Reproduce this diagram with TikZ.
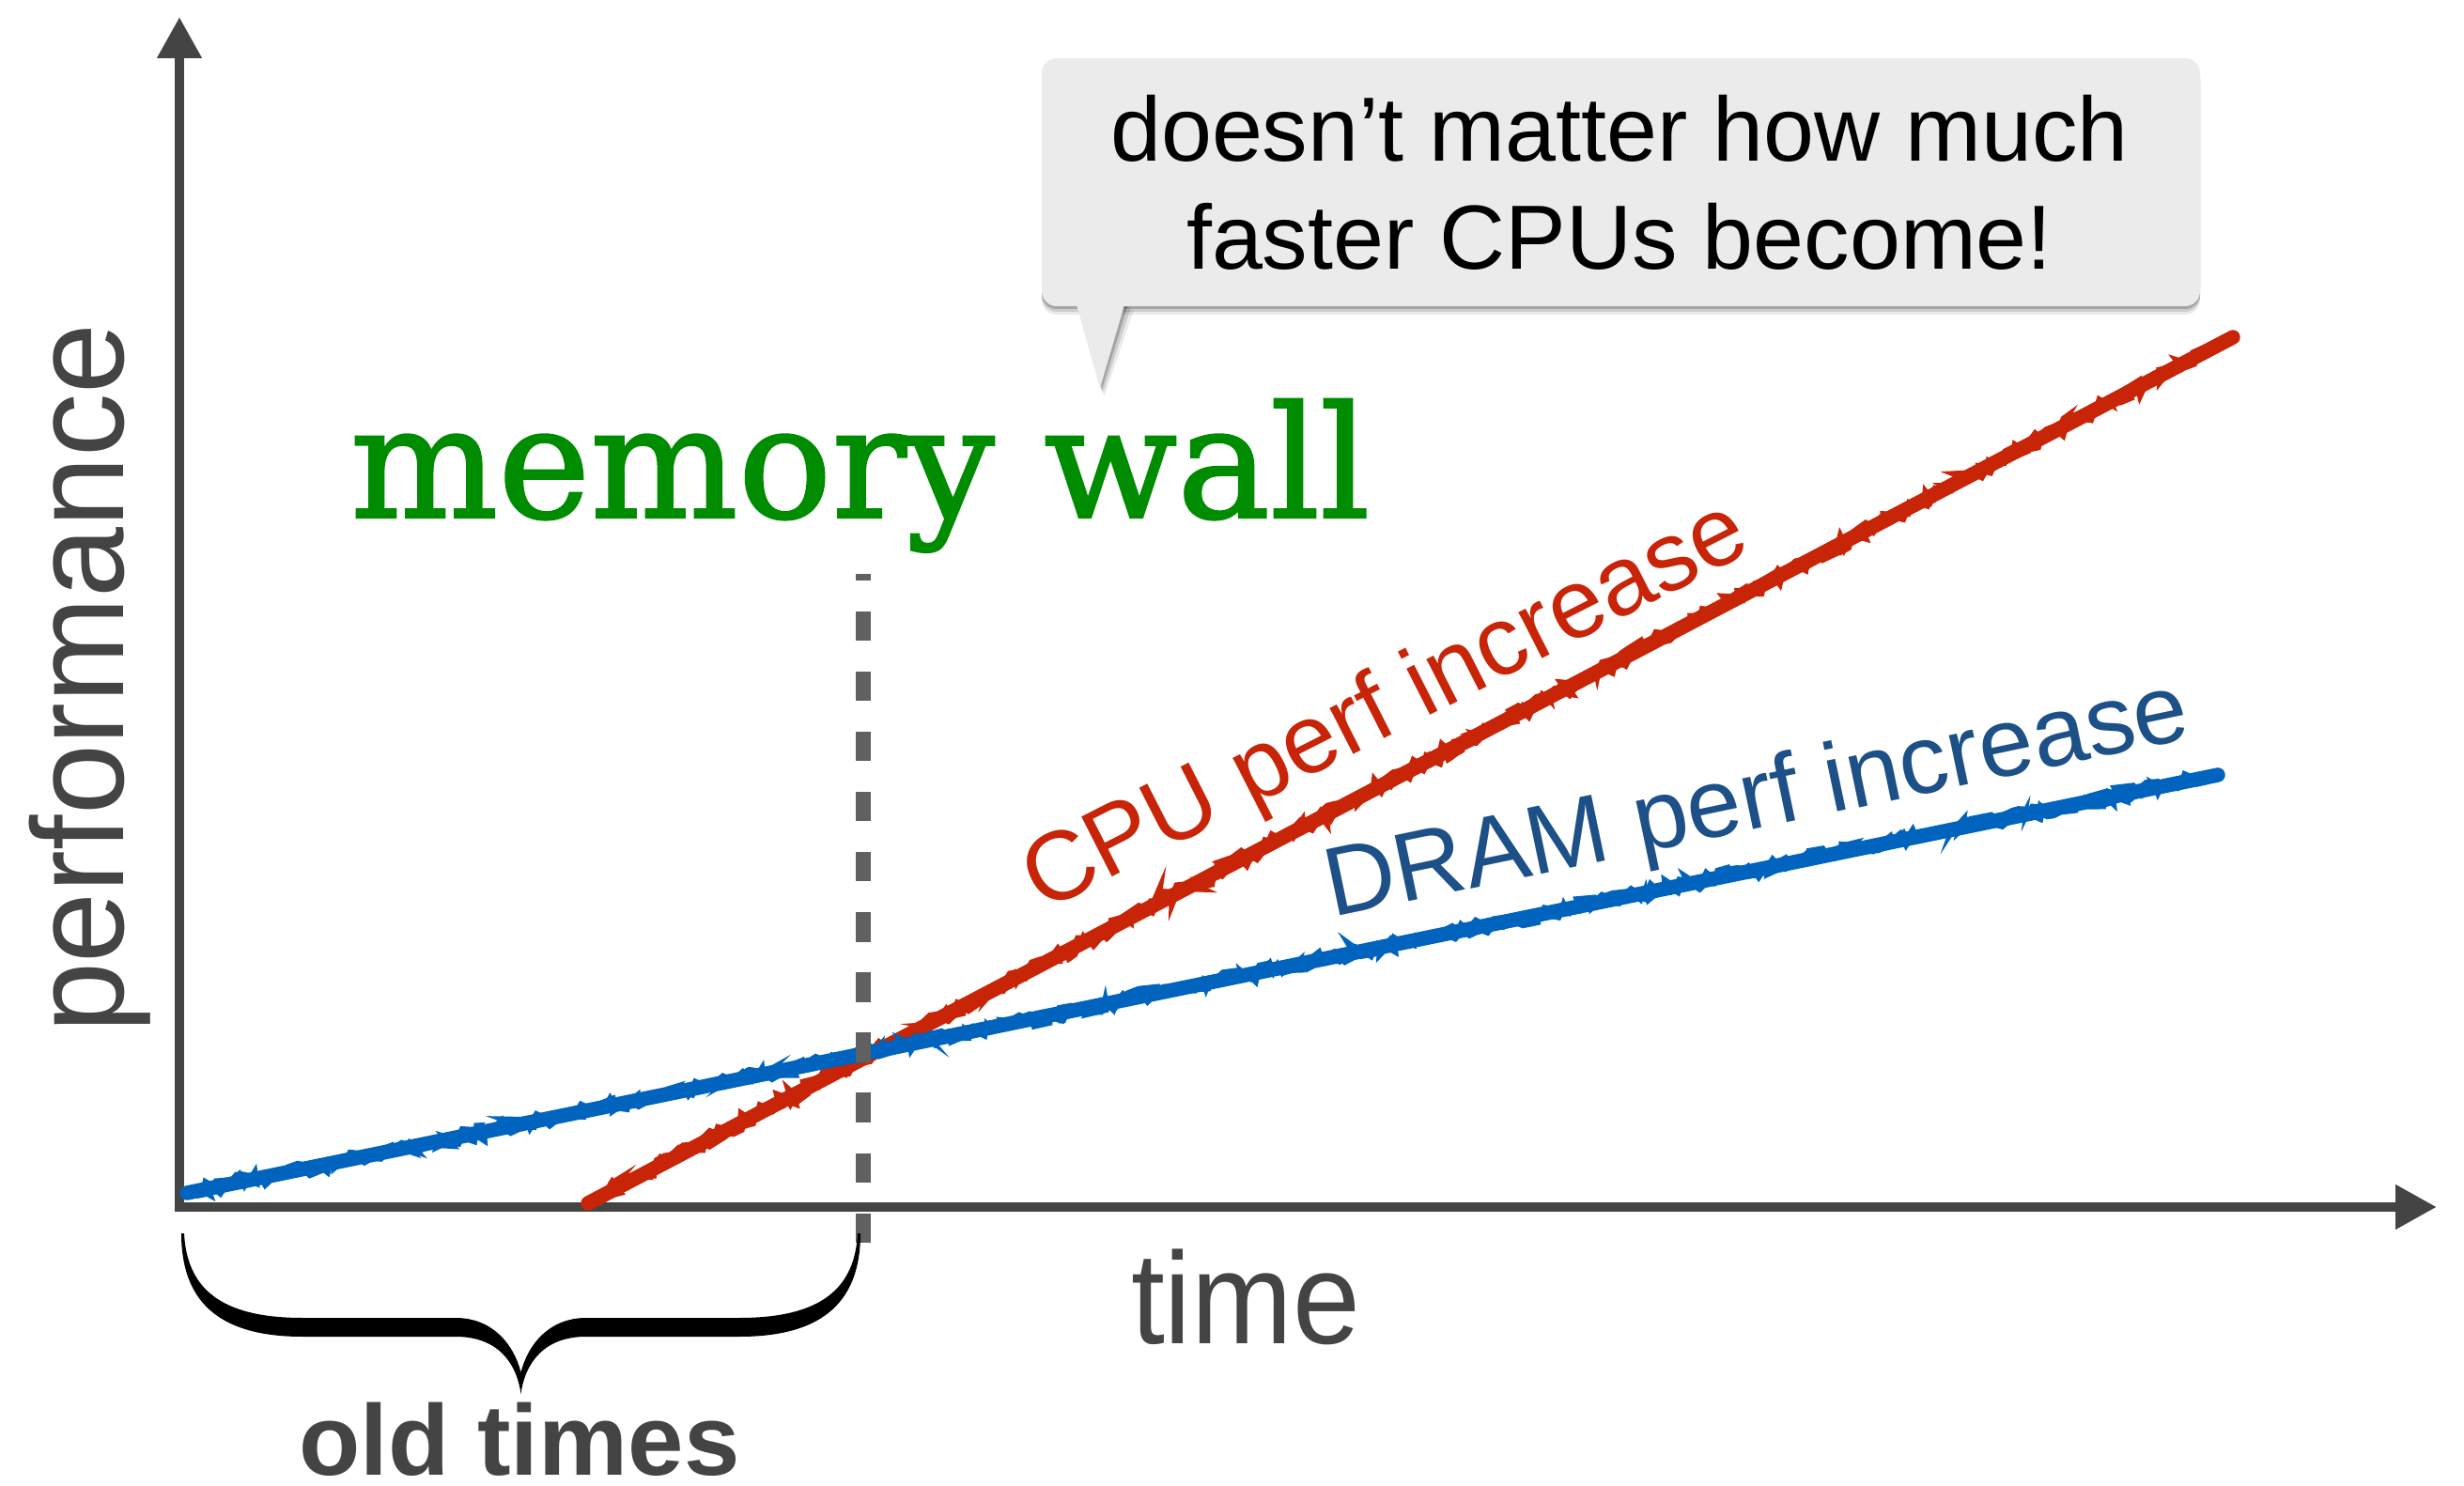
\documentclass[tikz,border=0pt]{standalone}
\usepackage{fontspec}
\setmainfont{Liberation Sans}
\newfontfamily\slabfont[FakeBold=1.5]{DejaVu Serif}
\usetikzlibrary{arrows.meta,decorations.pathmorphing}
\definecolor{axisgray}{HTML}{444444}
\definecolor{dashgray}{HTML}{606060}
\definecolor{cpured}{RGB}{200,36,8}
\definecolor{dramblue}{RGB}{0,100,190}
\definecolor{dramtext}{RGB}{28,80,135}
\definecolor{wallgreen}{RGB}{0,140,0}
\definecolor{bubble}{HTML}{EBEBEB}
\begin{document}
\begin{tikzpicture}[
  axisline/.style={draw=axisgray, line width=3.05pt, line join=miter,
    {Triangle[length=0.44cm,width=0.45cm]}-{Triangle[length=0.44cm,width=0.45cm]}},
  crayon/.style={line width=4.4pt, line cap=round,
    postaction={draw, decorate, line width=2.6pt,
      decoration={random steps, segment length=2pt, amplitude=1.8pt}},
    postaction={draw, decorate, line width=1.2pt,
      decoration={random steps, segment length=2.6pt, amplitude=2.8pt}}},
  wallline/.style={draw=dashgray, line width=4.5pt, dash pattern=on 0.314cm off 0.327cm},
  txt/.style={inner sep=0pt, outer sep=0pt},
  bigsans/.style={font=\fontsize{39.5pt}{47pt}\selectfont, text=axisgray},
  curvelabel/.style={font=\fontsize{29.6pt}{35pt}\selectfont, anchor=base west},
  bubbletext/.style={font=\fontsize{27.6pt}{33pt}\selectfont, text=black, anchor=base},
]
\pgfmathsetseed{7}
\useasboundingbox (0,0) rectangle (26.23,15.81);

% axes
\coordinate (O) at (1.91,2.96);
\coordinate (ytip) at (1.91,15.63);
\coordinate (xtip) at (25.94,2.96);
\draw[axisline] (ytip) -- (O) -- (xtip);

% axis labels
\node[txt, bigsans, rotate=90, anchor=base] (perf) at (1.317,8.59) {\scalebox{0.97}[1]{performance}};
\node[txt, bigsans, anchor=base] (time) at (13.26,1.51) {\scalebox{0.93}[1]{time}};

% growth curves
\coordinate (cpu0) at (6.26,3.00);
\coordinate (cpu1) at (23.77,12.22);
\coordinate (dram0) at (1.99,3.11);
\coordinate (dram1) at (23.61,7.56);
\draw[crayon, cpured] (cpu0) -- (cpu1);
\draw[crayon, dramblue] (dram0) -- (dram1);

\node[txt, curvelabel, text=cpured, rotate=27] (cpulabel) at (11.10,6.09) {CPU perf increase};
\node[txt, curvelabel, text=dramtext, rotate=11.8] (dramlabel) at (14.18,6.04) {DRAM perf increase};

% the wall
\coordinate (wallbot) at (9.19,2.58);
\coordinate (walltop) at (9.19,9.70);
\draw[wallline] (wallbot) -- (walltop);
\node[txt, anchor=base west, text=wallgreen, font=\slabfont\fontsize{47.2pt}{56pt}\selectfont] (wall) at (3.73,10.30) {memory wall};

% speech bubble
\foreach \s/\o in {0.09/0.08, 0.06/0.12, 0.03/0.2} {
  \fill[black, opacity=\o, rounded corners=0.16cm] (11.09,{12.55-\s}) rectangle (23.42,{15.19-\s});
  \fill[black, opacity=\o] ({11.45+\s},{12.6-\s}) -- ({11.71+0.5*\s},{11.68-\s}) -- ({11.98+\s},{12.6-\s}) -- cycle;
}
\fill[bubble, rounded corners=0.16cm] (11.09,12.55) rectangle (23.42,15.19);
\fill[bubble] (11.45,12.60) -- (11.71,11.68) -- (11.98,12.60) -- cycle;
\node[txt, bubbletext] (msg1) at (17.24,14.095) {doesn’t matter how much};
\node[txt, bubbletext] (msg2) at (17.24,12.946) {faster CPUs become!};

% brace under the early period
\fill[black] (1.93,2.68)
  .. controls (1.93,1.98) and (2.30,1.58) .. (3.22,1.58)
  -- (4.85,1.58)
  .. controls (5.30,1.58) and (5.50,1.30) .. (5.545,0.97)
  .. controls (5.59,1.30) and (5.79,1.58) .. (6.24,1.58)
  -- (7.87,1.58)
  .. controls (8.79,1.58) and (9.16,1.98) .. (9.16,2.68)
  -- (9.13,2.68)
  .. controls (9.10,2.10) and (8.75,1.78) .. (7.87,1.78)
  -- (6.24,1.78)
  .. controls (5.85,1.78) and (5.62,1.50) .. (5.545,1.20)
  .. controls (5.47,1.50) and (5.24,1.78) .. (4.85,1.78)
  -- (3.22,1.78)
  .. controls (2.34,1.78) and (1.99,2.10) .. (1.96,2.68)
  -- cycle;
\node[txt, anchor=base, text=axisgray, font=\bfseries\fontsize{30.4pt}{36pt}\selectfont] (old) at (5.53,0.11) {old times};
\end{tikzpicture}
\end{document}
